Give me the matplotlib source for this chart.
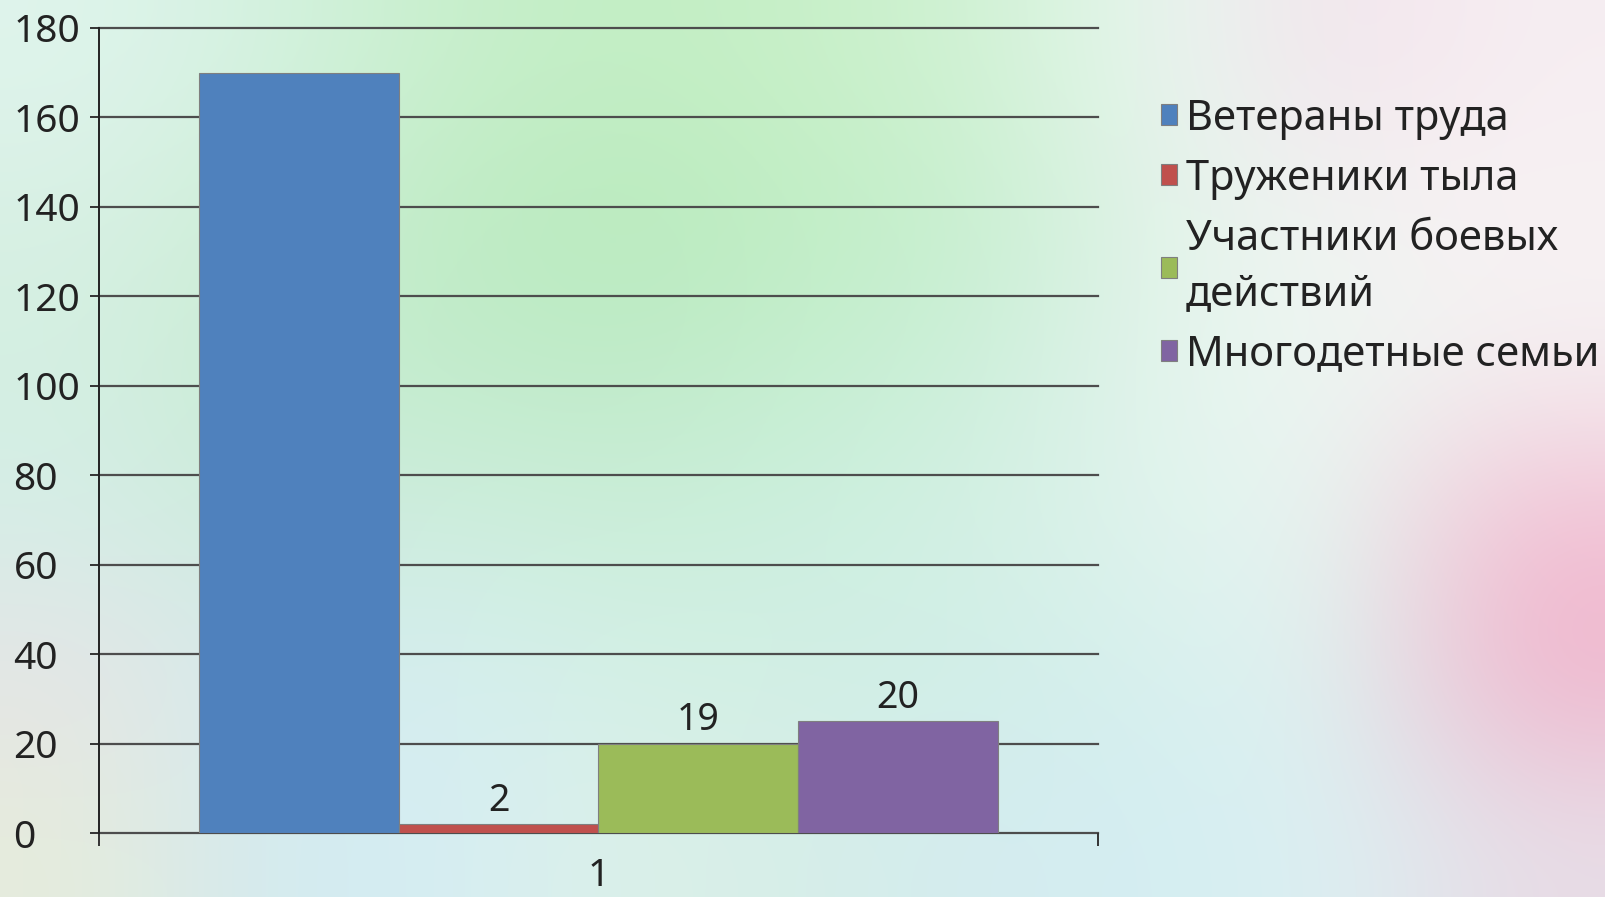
import numpy as np
import matplotlib
matplotlib.use('Agg')
import matplotlib.pyplot as plt
from matplotlib.colors import to_rgb

plt.rcParams['font.family'] = ['Noto Sans', 'DejaVu Sans']

# data
categories = ['Ветераны труда', 'Труженики тыла', 'Участники боевых\nдействий', 'Многодетные семьи']
values = [170, 2, 20, 25]
value_labels = ['', '2', '19', '20']
colors = ['#4F81BD', '#C0504D', '#9BBB59', '#8064A2']
yticks = [0, 20, 40, 60, 80, 100, 120, 140, 160, 180]
xtick_label = '1'

fig = plt.figure(figsize=(16.06, 8.97), dpi=100)

# soft watercolour-like backdrop
bg_rows = [
    ['#dff4ec', '#d4f2e0', '#c8efcc', '#c2eec4', '#c8f0c8', '#d0f2d4', '#e8f6f0', '#f3e4ec', '#f6eef2'],
    ['#d8f0e4', '#cdeed6', '#bfecc4', '#b8eabc', '#c0eec4', '#c8efd0', '#e2f4ea', '#f2f4f2', '#f8f2f4'],
    ['#d4efe2', '#c8ecd2', '#c2eccc', '#bfeac8', '#c6efd0', '#cdefdc', '#e4f4ee', '#eef6f2', '#f4eef0'],
    ['#d6eee8', '#cdeadc', '#cfeee0', '#cbeed8', '#ccefe0', '#d4f0e4', '#e0f4ee', '#e8f4f0', '#f2c0d4'],
    ['#e6e4e6', '#d4ecee', '#d6eef0', '#d4f0e6', '#d2efe4', '#d0eee8', '#d8f0ee', '#e0f2f0', '#f0b4cc'],
    ['#e6ecdc', '#d2eaf0', '#d6eef4', '#dcf0e8', '#d6eee8', '#d4ecf0', '#d4eef2', '#dcf0f2', '#e8dce6'],
]
bg = np.array([[to_rgb(c) for c in row] for row in bg_rows])
bgax = fig.add_axes([0, 0, 1, 1], zorder=-1)
bgax.imshow(bg, aspect='auto', interpolation='bicubic', extent=[0, 1, 0, 1])
bgax.axis('off')

ax = fig.add_axes([0.0616, 0.0713, 0.6221, 0.8975])
ax.set_facecolor('none')

width = 0.2
xs = np.arange(len(values)) * width - 0.3
bars = ax.bar(xs, values, width, color=colors, edgecolor='#7f7f7f', linewidth=0.8,
              label=categories, zorder=3)

for b, txt in zip(bars, value_labels):
    if txt:
        ax.annotate(txt, (b.get_x() + b.get_width() / 2, b.get_height()),
                    xytext=(0, 3), textcoords='offset points',
                    ha='center', va='bottom', fontsize=27, color='#222222')

for y in yticks:
    ax.axhline(y, color='#4d4d4d', lw=1.6, clip_on=False, zorder=1)

ax.set_xlim(-0.5, 0.5)
ax.set_ylim(0, 180)
ax.set_yticks(yticks)
ax.set_xticks([0])
ax.set_xticklabels([xtick_label], fontsize=28, color='#222222')
ax.set_xticks([-0.5, 0.5], minor=True)
ax.tick_params(axis='x', which='major', length=0, pad=17)
ax.tick_params(axis='x', which='minor', length=9, width=1.4, color='#333333', direction='out')
ax.tick_params(axis='y', length=6.5, width=1.4, color='#333333', direction='out',
               labelsize=28, labelcolor='#222222', pad=55)
for lab in ax.get_yticklabels():
    lab.set_horizontalalignment('left')

for s in ['top', 'right', 'bottom']:
    ax.spines[s].set_visible(False)
ax.spines['left'].set_color('#222222')
ax.spines['left'].set_linewidth(1.4)
ax.spines['left'].set_zorder(4)

leg = ax.legend(loc='upper left', bbox_to_anchor=(1.046, 0.934), frameon=False,
                fontsize=30, handlelength=0.4, handleheight=0.4, handletextpad=0.2,
                labelspacing=0.43, borderaxespad=0, labelcolor='#222222')
for t in leg.get_texts():
    t.set_linespacing(1.43)

fig.savefig('out.png', dpi=100)
